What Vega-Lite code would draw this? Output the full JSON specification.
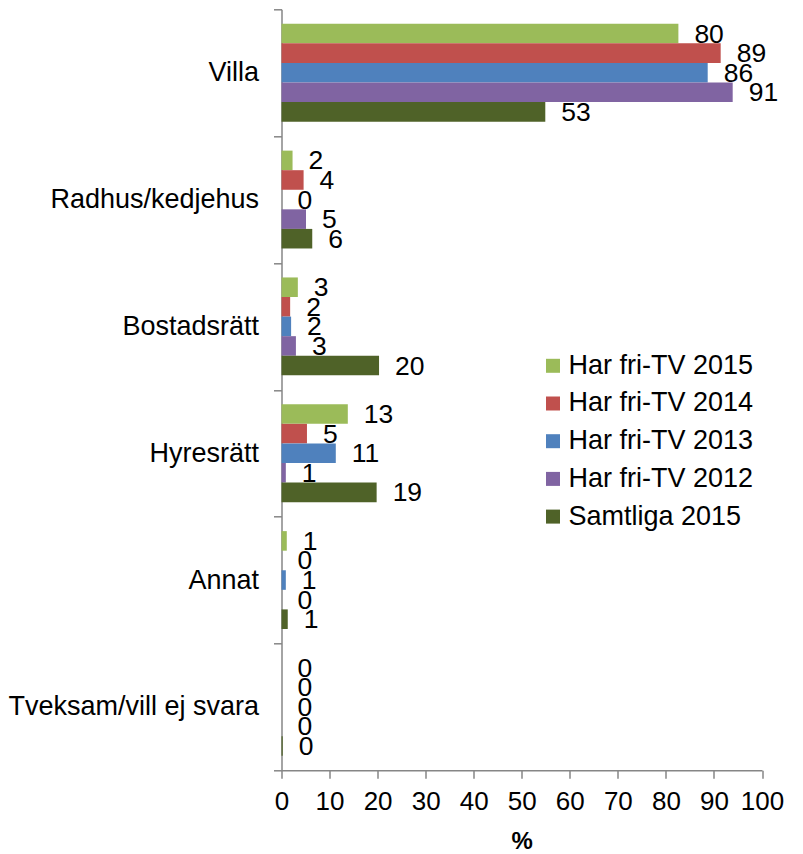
{
  "$schema": "https://vega.github.io/schema/vega-lite/v6.json",
  "autosize": {"type": "none"},
  "width": 480.5,
  "height": 761,
  "padding": {"left": 281.5, "top": 9.3, "right": 41, "bottom": 84},
  "config": {
    "view": {"stroke": null},
    "font": "Liberation Sans",
    "axis": {"domainColor": "#868686", "tickColor": "#868686", "grid": false, "labelColor": "#000000", "titleColor": "#000000", "labelFont": "Liberation Sans", "titleFont": "Liberation Sans"}
  },
  "data": {
    "values": [
      {"category": "Villa", "series": "Har fri-TV 2015", "value": 82.6, "label": "80"},
      {"category": "Villa", "series": "Har fri-TV 2014", "value": 91.4, "label": "89"},
      {"category": "Villa", "series": "Har fri-TV 2013", "value": 88.7, "label": "86"},
      {"category": "Villa", "series": "Har fri-TV 2012", "value": 93.9, "label": "91"},
      {"category": "Villa", "series": "Samtliga 2015", "value": 54.9, "label": "53"},
      {"category": "Radhus/kedjehus", "series": "Har fri-TV 2015", "value": 2.3, "label": "2"},
      {"category": "Radhus/kedjehus", "series": "Har fri-TV 2014", "value": 4.6, "label": "4"},
      {"category": "Radhus/kedjehus", "series": "Har fri-TV 2013", "value": 0, "label": "0"},
      {"category": "Radhus/kedjehus", "series": "Har fri-TV 2012", "value": 5.1, "label": "5"},
      {"category": "Radhus/kedjehus", "series": "Samtliga 2015", "value": 6.4, "label": "6"},
      {"category": "Bostadsrätt", "series": "Har fri-TV 2015", "value": 3.4, "label": "3"},
      {"category": "Bostadsrätt", "series": "Har fri-TV 2014", "value": 1.8, "label": "2"},
      {"category": "Bostadsrätt", "series": "Har fri-TV 2013", "value": 2.0, "label": "2"},
      {"category": "Bostadsrätt", "series": "Har fri-TV 2012", "value": 3.0, "label": "3"},
      {"category": "Bostadsrätt", "series": "Samtliga 2015", "value": 20.3, "label": "20"},
      {"category": "Hyresrätt", "series": "Har fri-TV 2015", "value": 13.8, "label": "13"},
      {"category": "Hyresrätt", "series": "Har fri-TV 2014", "value": 5.3, "label": "5"},
      {"category": "Hyresrätt", "series": "Har fri-TV 2013", "value": 11.3, "label": "11"},
      {"category": "Hyresrätt", "series": "Har fri-TV 2012", "value": 0.9, "label": "1"},
      {"category": "Hyresrätt", "series": "Samtliga 2015", "value": 19.8, "label": "19"},
      {"category": "Annat", "series": "Har fri-TV 2015", "value": 1.1, "label": "1"},
      {"category": "Annat", "series": "Har fri-TV 2014", "value": 0, "label": "0"},
      {"category": "Annat", "series": "Har fri-TV 2013", "value": 0.9, "label": "1"},
      {"category": "Annat", "series": "Har fri-TV 2012", "value": 0, "label": "0"},
      {"category": "Annat", "series": "Samtliga 2015", "value": 1.3, "label": "1"},
      {"category": "Tveksam/vill ej svara", "series": "Har fri-TV 2015", "value": 0, "label": "0"},
      {"category": "Tveksam/vill ej svara", "series": "Har fri-TV 2014", "value": 0, "label": "0"},
      {"category": "Tveksam/vill ej svara", "series": "Har fri-TV 2013", "value": 0, "label": "0"},
      {"category": "Tveksam/vill ej svara", "series": "Har fri-TV 2012", "value": 0, "label": "0"},
      {"category": "Tveksam/vill ej svara", "series": "Samtliga 2015", "value": 0.25, "label": "0"}
    ]
  },
  "encoding": {
    "y": {
      "field": "category", "type": "nominal",
      "sort": ["Villa", "Radhus/kedjehus", "Bostadsrätt", "Hyresrätt", "Annat", "Tveksam/vill ej svara"],
      "scale": {"paddingInner": 0, "paddingOuter": 0},
      "axis": {"title": null, "tickBand": "extent", "tickSize": 8, "labelPadding": 15, "labelFontSize": 27, "labelLimit": 300, "domainWidth": 1.5, "tickWidth": 1.5}
    },
    "yOffset": {
      "field": "series", "type": "nominal",
      "sort": ["Har fri-TV 2015", "Har fri-TV 2014", "Har fri-TV 2013", "Har fri-TV 2012", "Samtliga 2015"],
      "scale": {"paddingInner": 0, "paddingOuter": 0.74}
    }
  },
  "layer": [
    {
      "mark": {"type": "bar"},
      "encoding": {
        "x": {
          "field": "value", "type": "quantitative",
          "scale": {"domain": [0, 100], "nice": false},
          "axis": {"title": "%", "titleFontSize": 24, "titleFontWeight": "bold", "titlePadding": 15, "values": [0, 10, 20, 30, 40, 50, 60, 70, 80, 90, 100], "tickSize": 8, "labelPadding": 10, "labelFontSize": 26, "labelFlush": false, "domainWidth": 1.5, "tickWidth": 1.5}
        },
        "color": {
          "field": "series", "type": "nominal",
          "sort": ["Har fri-TV 2015", "Har fri-TV 2014", "Har fri-TV 2013", "Har fri-TV 2012", "Samtliga 2015"],
          "scale": {"domain": ["Har fri-TV 2015", "Har fri-TV 2014", "Har fri-TV 2013", "Har fri-TV 2012", "Samtliga 2015"], "range": ["#9BBB59", "#C0504D", "#4F81BD", "#8064A2", "#4F6228"]},
          "legend": {"title": null, "orient": "none", "legendX": 258, "legendY": 343, "padding": 0, "symbolType": "square", "symbolSize": 196, "symbolStrokeWidth": 0, "labelFontSize": 27, "labelOffset": 2, "rowPadding": 9.7, "labelColor": "#000000", "labelLimit": 400}
        }
      }
    },
    {
      "mark": {"type": "text", "align": "left", "baseline": "middle", "dx": 16, "dy": 1, "fontSize": 26.5, "color": "#000000"},
      "encoding": {
        "x": {"field": "value", "type": "quantitative"},
        "text": {"field": "label", "type": "nominal"}
      }
    }
  ]
}
